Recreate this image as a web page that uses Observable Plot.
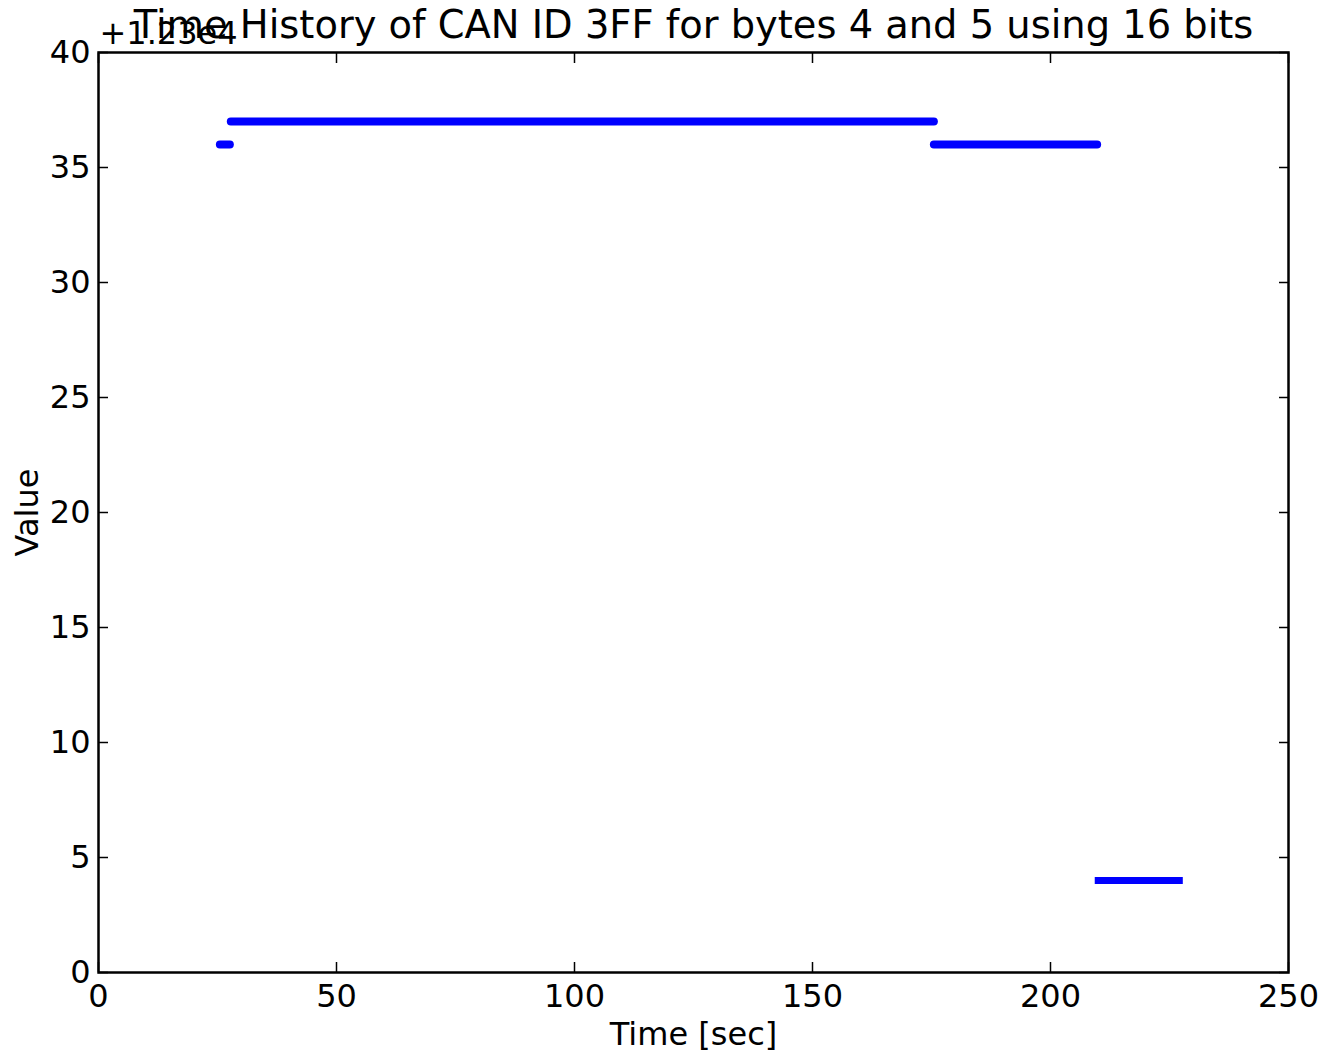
<!DOCTYPE html>
<html>
<head>
<meta charset="utf-8">
<script src="https://cdn.jsdelivr.net/npm/d3@7"></script>
<script src="https://cdn.jsdelivr.net/npm/@observablehq/plot@0.6"></script>
<style>
  html, body { margin: 0; padding: 0; background: white; }
  #chart { width: 1327px; height: 1052px; }
</style>
</head>
<body>
<div id="chart"></div>
<script>
// ---- data ----
const title = "Time History of CAN ID 3FF for bytes 4 and 5 using 16 bits";
const xLabel = "Time [sec]";
const yLabel = "Value";
const yOffsetValue = 12300;
const yOffsetLabel = "+1.23e4";
const xTicks = [0, 50, 100, 150, 200, 250];
const yTicks = [12300, 12305, 12310, 12315, 12320, 12325, 12330, 12335, 12340];

// constant-value runs of samples (dense dots) : start time, end time, value
const segStart = [25.6, 27.9, 175.6];
const segEnd   = [27.7, 175.6, 209.9];
const segValue = [12336, 12337, 12336];
// last run (drawn with square ends)
const lastStart = [209.4];
const lastEnd   = [227.9];
const lastValue = [12304];

const segs = segStart.map((s, i) => ({start: s, end: segEnd[i], value: segValue[i]}));
const last = lastStart.map((s, i) => ({start: s, end: lastEnd[i], value: lastValue[i]}));

const blue = "#0000ff";
const fmtY = d => String(d - yOffsetValue);

const plot = Plot.plot({
  width: 1327,
  height: 1052,
  marginLeft: 98,
  marginRight: 39,
  marginTop: 52,
  marginBottom: 80,
  style: {fontFamily: "DejaVu Sans", fontSize: "32px", background: "white", color: "black"},
  x: {domain: [0, 250]},
  y: {domain: [12300, 12340]},
  marks: [
    Plot.ruleY(segs, {x1: "start", x2: "end", y: "value", stroke: blue, strokeWidth: 8, strokeLinecap: "round"}),
    Plot.ruleY(last, {x1: "start", x2: "end", y: "value", stroke: blue, strokeWidth: 7, strokeLinecap: "butt"}),
    Plot.frame({stroke: "black", strokeWidth: 2.5}),
    Plot.axisX(xTicks, {anchor: "bottom", tickSize: -10, tickPadding: 22, strokeWidth: 1.5, fontSize: 32, label: null}),
    Plot.axisX(xTicks, {anchor: "top", tickSize: -10, strokeWidth: 1.5, tickFormat: () => "", label: null}),
    Plot.axisY(yTicks, {anchor: "left", tickSize: -10, tickPadding: 18, strokeWidth: 1.5, fontSize: 32, tickFormat: fmtY, label: null}),
    Plot.axisY(yTicks, {anchor: "right", tickSize: -10, strokeWidth: 1.5, tickFormat: () => "", label: null}),
    Plot.text([xLabel], {frameAnchor: "bottom", textAnchor: "middle", lineAnchor: "middle", dy: 62, fontSize: 32, fill: "black"}),
    Plot.text([yLabel], {frameAnchor: "left", textAnchor: "middle", lineAnchor: "middle", rotate: -90, dx: -71, fontSize: 32, fill: "black"}),
    Plot.text([yOffsetLabel], {frameAnchor: "top-left", textAnchor: "start", lineAnchor: "middle", dx: 1, dy: -19, fontSize: 32, fill: "black"}),
    Plot.text([title], {frameAnchor: "top", textAnchor: "middle", lineAnchor: "middle", dy: -27, fontSize: 38.4, fill: "black"})
  ]
});
document.getElementById("chart").appendChild(plot);
</script>
</body>
</html>
